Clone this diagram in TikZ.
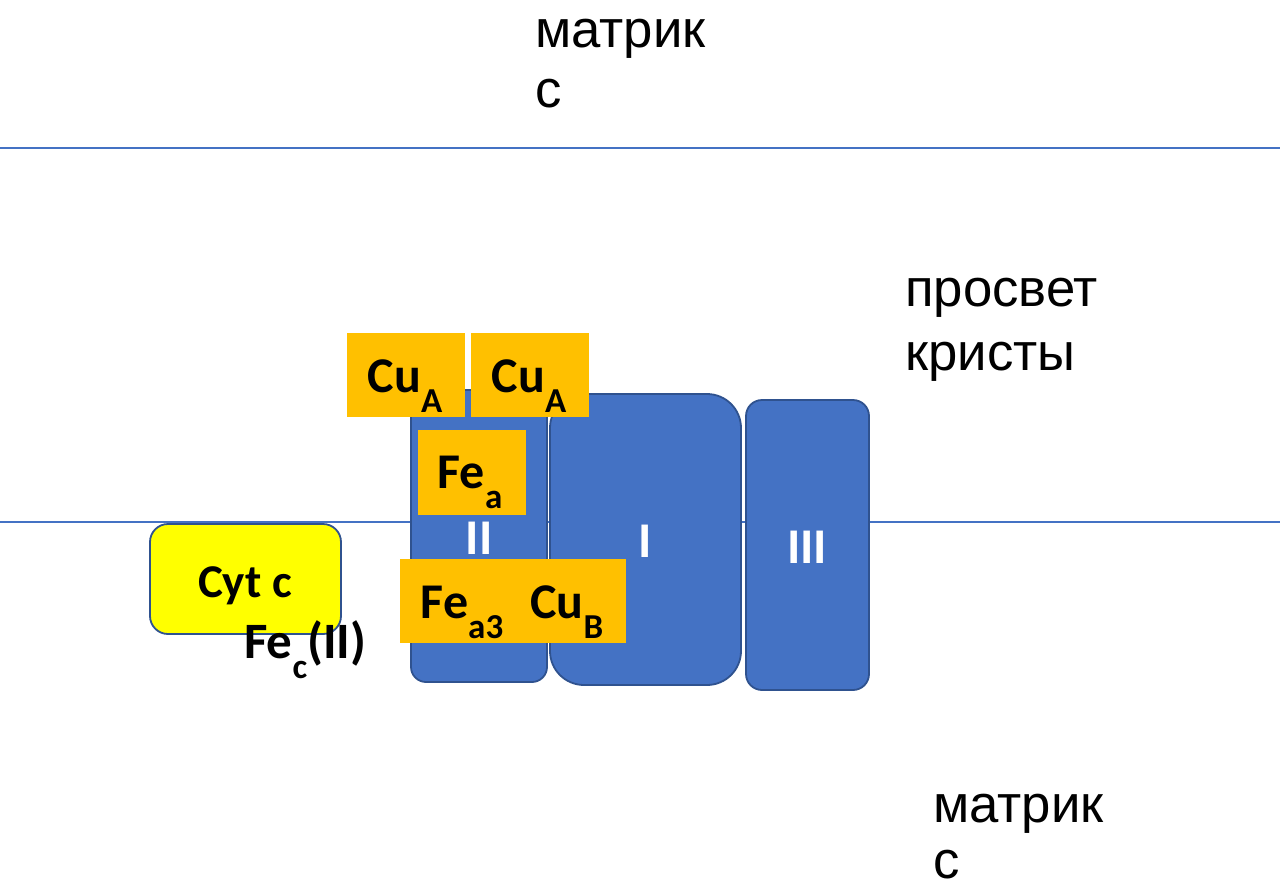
\documentclass[tikz,border=0pt]{standalone}
\usepackage{fontspec}
\setmainfont{Liberation Sans}
\newfontfamily\calib{Carlito}
\newcommand\lowsub[1]{\raisebox{-0.4em}{\fontsize{35}{35}\selectfont #1}}
\definecolor{memb}{HTML}{4472C4}
\definecolor{protfill}{HTML}{4472C4}
\definecolor{protedge}{HTML}{2F528F}
\definecolor{metal}{HTML}{FFC000}
\definecolor{cytyel}{HTML}{FFFF00}
\begin{document}
\begin{tikzpicture}[x=1pt,y=-1pt,
  membline/.style={draw=memb,line width=1.3pt},
  prot/.style={draw=protedge,fill=protfill,line width=1.8pt},
  metalbox/.style={fill=metal},
  rutext/.style={inner sep=0pt,anchor=base west,font=\fontsize{52.7}{60}\selectfont},
  bold/.style={inner sep=0pt,anchor=base,font=\calib\bfseries\fontsize{50}{50}\selectfont},
  roman/.style={inner sep=0pt,anchor=center,text=white,font=\calib\bfseries\fontsize{50}{50}\selectfont}]
\useasboundingbox (0,0) rectangle (1280,886);
\fill[white] (0,0) rectangle (1280,886);
% membranes
\coordinate (l1a) at (0,148); \coordinate (l1b) at (1280,148);
\coordinate (l2a) at (0,522); \coordinate (l2b) at (1280,522);
\draw[membline] (l1a) -- (l1b);
\draw[membline] (l2a) -- (l2b);
% proteins
\draw[prot,rounded corners=15pt] (411,390) rectangle (547,682);
\draw[prot,rounded corners=34pt] (550,394) rectangle (741,685);
\draw[prot,rounded corners=16pt] (746,400) rectangle (869,690);
\node[roman] (rII) at (479,538) {II};
\node[roman] (rI) at (645,541) {I};
\node[roman] (rIII) at (807,547) {III};
% metal centres
\fill[metalbox] (347,333) rectangle (465,417);
\fill[metalbox] (471,333) rectangle (589,417);
\fill[metalbox] (418,430) rectangle (526,515);
\fill[metalbox] (400,559) rectangle (626,643);
\node[bold] (cua1) at (405,392) {Cu\lowsub{A}};
\node[bold] (cua2) at (529,392) {Cu\lowsub{A}};
\node[bold] (fea) at (470,488) {Fe\lowsub{a}};
\node[bold] (fea3) at (512,618) {Fe\lowsub{a3}\hspace{27pt}Cu\lowsub{B}};
% cytochrome c
\draw[prot,fill=cytyel,rounded corners=18pt] (150,524) rectangle (341,634);
\node[bold,font=\calib\bfseries\fontsize{47}{47}\selectfont] (cyt) at (245,597) {Cyt c};
\node[bold,anchor=base west,font=\calib\bfseries\fontsize{51}{51}\selectfont] (fec) at (244,658) {Fe\lowsub{c}(II)};
% texts
\node[rutext] (m1) at (535,47) {матрик};
\node[rutext] (m1b) at (535,107) {с};
\node[rutext] (p1) at (905,306) {просвет};
\node[rutext] (p1b) at (905,370) {кристы};
\node[rutext] (m2) at (933,822) {матрик};
\node[rutext] (m2b) at (933,878) {с};
\end{tikzpicture}
\end{document}
